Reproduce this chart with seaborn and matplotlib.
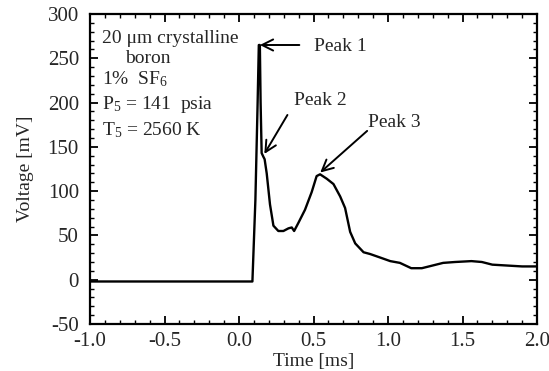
import matplotlib
matplotlib.use("Agg")
import matplotlib.pyplot as plt
from matplotlib.ticker import MultipleLocator, FuncFormatter
import seaborn as sns
import pandas as pd

time_ms = [-1.0, -0.7, -0.5, -0.3, -0.1, 0.05, 0.09, 0.11, 0.125, 0.133, 0.14, 0.145,
           0.152, 0.163, 0.172, 0.186, 0.208, 0.231, 0.264, 0.298, 0.332, 0.354, 0.37,
           0.398, 0.443, 0.488, 0.521, 0.544, 0.589, 0.634, 0.679, 0.712, 0.746, 0.78,
           0.836, 0.88, 0.948, 1.015, 1.08, 1.156, 1.227, 1.275, 1.37, 1.45, 1.56, 1.63,
           1.70, 1.80, 1.90, 2.0]
voltage_mv = [-2, -2, -2, -2, -2, -2, -2, 90, 200, 265, 265, 200,
              143, 139, 136, 120, 85, 61, 55, 55, 58, 59, 55,
              64, 79, 99, 117, 119, 114, 108, 94, 81, 54, 41,
              31, 29, 25, 21, 19, 13, 13, 15, 19, 20, 21, 20,
              17, 16, 15, 15]

text_lines = ["20 \u03bcm crystalline", "boron", "1%  SF$_6$", "P$_5$ = 141  psia", "T$_5$ = 2560 K"]
text_x = [-0.92, -0.765, -0.92, -0.92, -0.92]
text_y = [272, 250, 227, 198, 169]

sns.set_style("ticks")
plt.rcParams['font.family'] = ['Liberation Serif', 'DejaVu Serif']
plt.rcParams['mathtext.fontset'] = 'custom'
plt.rcParams['mathtext.rm'] = 'Liberation Serif'
plt.rcParams['mathtext.it'] = 'Liberation Serif:italic'
plt.rcParams['axes.unicode_minus'] = False

fig = plt.figure(figsize=(5.49, 3.71), dpi=100)
ax = fig.add_axes([90/549, 1-324/371, (537-90)/549, (324-14)/371])

df = pd.DataFrame({"t": time_ms, "v": voltage_mv})
sns.lineplot(data=df, x="t", y="v", ax=ax, color="black", linewidth=1.7, sort=False)

ax.set_xlim(-1.0, 2.0)
ax.set_ylim(-50, 300)
ax.xaxis.set_major_locator(MultipleLocator(0.5))
ax.xaxis.set_minor_locator(MultipleLocator(0.1))
ax.yaxis.set_major_locator(MultipleLocator(50))
ax.yaxis.set_minor_locator(MultipleLocator(10))
ax.xaxis.set_major_formatter(FuncFormatter(lambda v, p: f"{v:.1f}"))
ax.yaxis.set_major_formatter(FuncFormatter(lambda v, p: f"{v:.0f}"))
ax.tick_params(which="both", direction="in", top=True, right=True, color="black")
ax.tick_params(which="major", length=6, width=1.3, labelsize=15)
ax.tick_params(axis="x", which="major", pad=6)
ax.tick_params(axis="y", which="major", pad=8)
ax.tick_params(which="minor", length=3, width=1.0)
for s in ax.spines.values():
    s.set_linewidth(1.6)
    s.set_color("black")

ax.set_xlabel("Time [ms]", fontsize=14, labelpad=1)
ax.set_ylabel("Voltage [mV]", fontsize=14, labelpad=10)

for x, y, s in zip(text_x, text_y, text_lines):
    ax.text(x, y, s, fontsize=14, ha="left", va="center")

arrowprops = dict(arrowstyle="->", color="black", lw=1.4, mutation_scale=20, shrinkA=0, shrinkB=0)
ax.annotate("", xy=(0.14, 265), xytext=(0.405, 265), arrowprops=arrowprops)
ax.text(0.50, 263, "Peak 1", fontsize=14, ha="left", va="center")
ax.annotate("", xy=(0.17, 142), xytext=(0.325, 186), arrowprops=arrowprops)
ax.text(0.372, 202, "Peak 2", fontsize=14, ha="left", va="center")
ax.annotate("", xy=(0.545, 121), xytext=(0.86, 168), arrowprops=arrowprops)
ax.text(0.863, 178, "Peak 3", fontsize=14, ha="left", va="center")

fig.savefig("out.png", dpi=100)
